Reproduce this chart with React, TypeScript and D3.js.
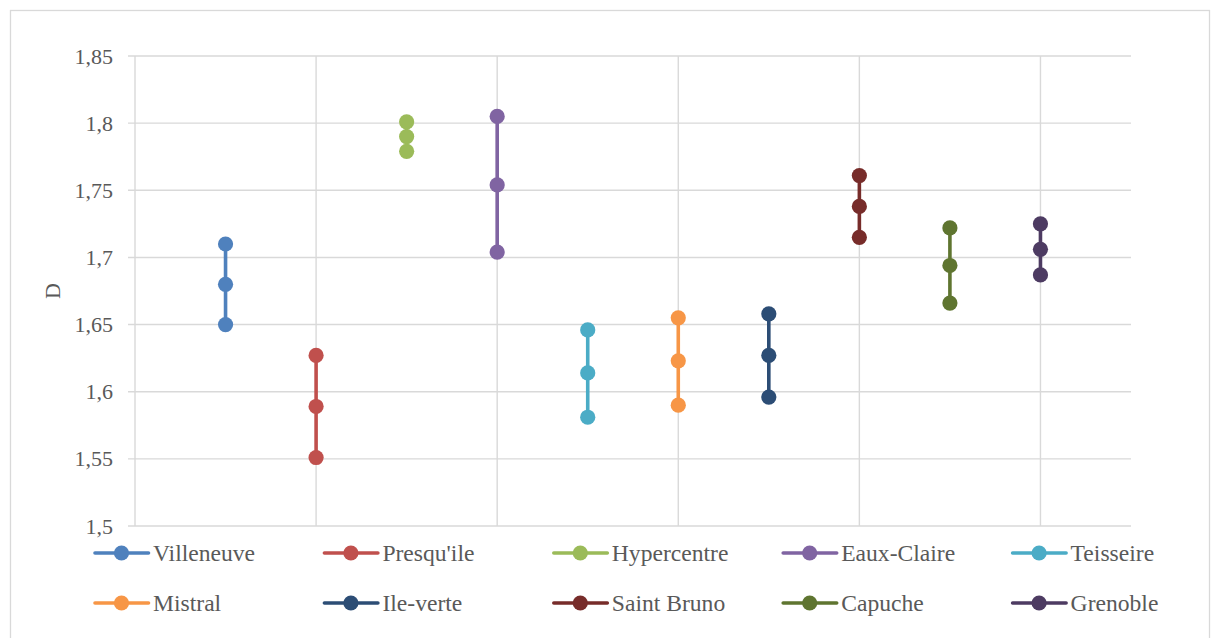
import React from "react";
import * as d3 from "d3";

const categories = ["Villeneuve", "Presqu'ile", "Hypercentre", "Eaux-Claire", "Teisseire", "Mistral", "Ile-verte", "Saint Bruno", "Capuche", "Grenoble"];
const xPositions = [1, 2, 3, 4, 5, 6, 7, 8, 9, 10];
const highValues = [1.710, 1.627, 1.801, 1.805, 1.646, 1.655, 1.658, 1.761, 1.722, 1.725];
const midValues = [1.680, 1.589, 1.790, 1.754, 1.614, 1.623, 1.627, 1.738, 1.694, 1.706];
const lowValues = [1.650, 1.551, 1.779, 1.704, 1.581, 1.590, 1.596, 1.715, 1.666, 1.687];
const colors = ["#4F81BD", "#C0504D", "#9BBB59", "#8064A2", "#4BACC6", "#F79646", "#2C4D75", "#772C2A", "#5F7530", "#4D3B62"];
const yTicks = [1.5, 1.55, 1.6, 1.65, 1.7, 1.75, 1.8, 1.85];
const xGrid = [0, 2, 4, 6, 8, 10];
const yTitle = "D";

const W = 1212, H = 638;
const left = 135, right = 1131, top = 56, bottom = 526;
const legendX0 = 95, legendColW = 229.4;
const legendRows = [553, 603];
const font = "Liberation Serif, Times New Roman, serif";

export default function App() {
  const x = d3.scaleLinear().domain([0, 11]).range([left, right]);
  const y = d3.scaleLinear().domain([1.5, 1.85]).range([bottom, top]);
  const fmt = (v: number) => String(+v.toFixed(2)).replace(".", ",");
  const line = d3.line<number>().x((d) => d[0]).y((d) => d[1]);
  const tickStyle = { fontFamily: font, fontSize: "22px" } as React.CSSProperties;
  const legStyle = { fontFamily: font, fontSize: "23.6px" } as React.CSSProperties;
  return (
    <svg width={W} height={H} style={{ position: "absolute", left: 0, top: 0 }}>
      <rect x={0} y={0} width={W} height={H} fill="#fff" />
      <rect x={10.5} y={10.5} width={1199} height={640} fill="none" stroke="#d9d9d9" strokeWidth={1.3} />
      {yTicks.map((t) => (
        <g key={"y" + t}>
          <line x1={left - 7} x2={right} y1={y(t)} y2={y(t)} stroke="#d9d9d9" strokeWidth={1.4} />
          <text x={113} y={y(t) + 7.5} textAnchor="end" style={tickStyle} fill="#595959">{fmt(t)}</text>
        </g>
      ))}
      {xGrid.map((g) => (
        <line key={"x" + g} x1={x(g)} x2={x(g)} y1={top} y2={bottom} stroke="#d9d9d9" strokeWidth={1.4} />
      ))}
      <text transform={`translate(60,${(top + bottom) / 2}) rotate(-90)`} textAnchor="middle" style={tickStyle} fill="#595959">{yTitle}</text>
      {categories.map((c, i) => {
        const px = x(xPositions[i]);
        const vals = [highValues[i], midValues[i], lowValues[i]];
        const pts = vals.map((v) => [px, y(v)] as [number, number]);
        return (
          <g key={c}>
            <path d={line(pts as any) || ""} stroke={colors[i]} strokeWidth={3.6} fill="none" />
            {pts.map((p, j) => (
              <circle key={j} cx={p[0]} cy={p[1]} r={7.6} fill={colors[i]} />
            ))}
          </g>
        );
      })}
      {categories.map((c, i) => {
        const lx = legendX0 + legendColW * (i % 5);
        const ly = legendRows[Math.floor(i / 5)];
        return (
          <g key={"lg" + c}>
            <line x1={lx} x2={lx + 53.5} y1={ly} y2={ly} stroke={colors[i]} strokeWidth={3.6} strokeLinecap="round" />
            <circle cx={lx + 26.5} cy={ly} r={7.6} fill={colors[i]} />
            <text x={lx + 58} y={ly + 8} style={legStyle} fill="#595959">{c}</text>
          </g>
        );
      })}
    </svg>
  );
}
